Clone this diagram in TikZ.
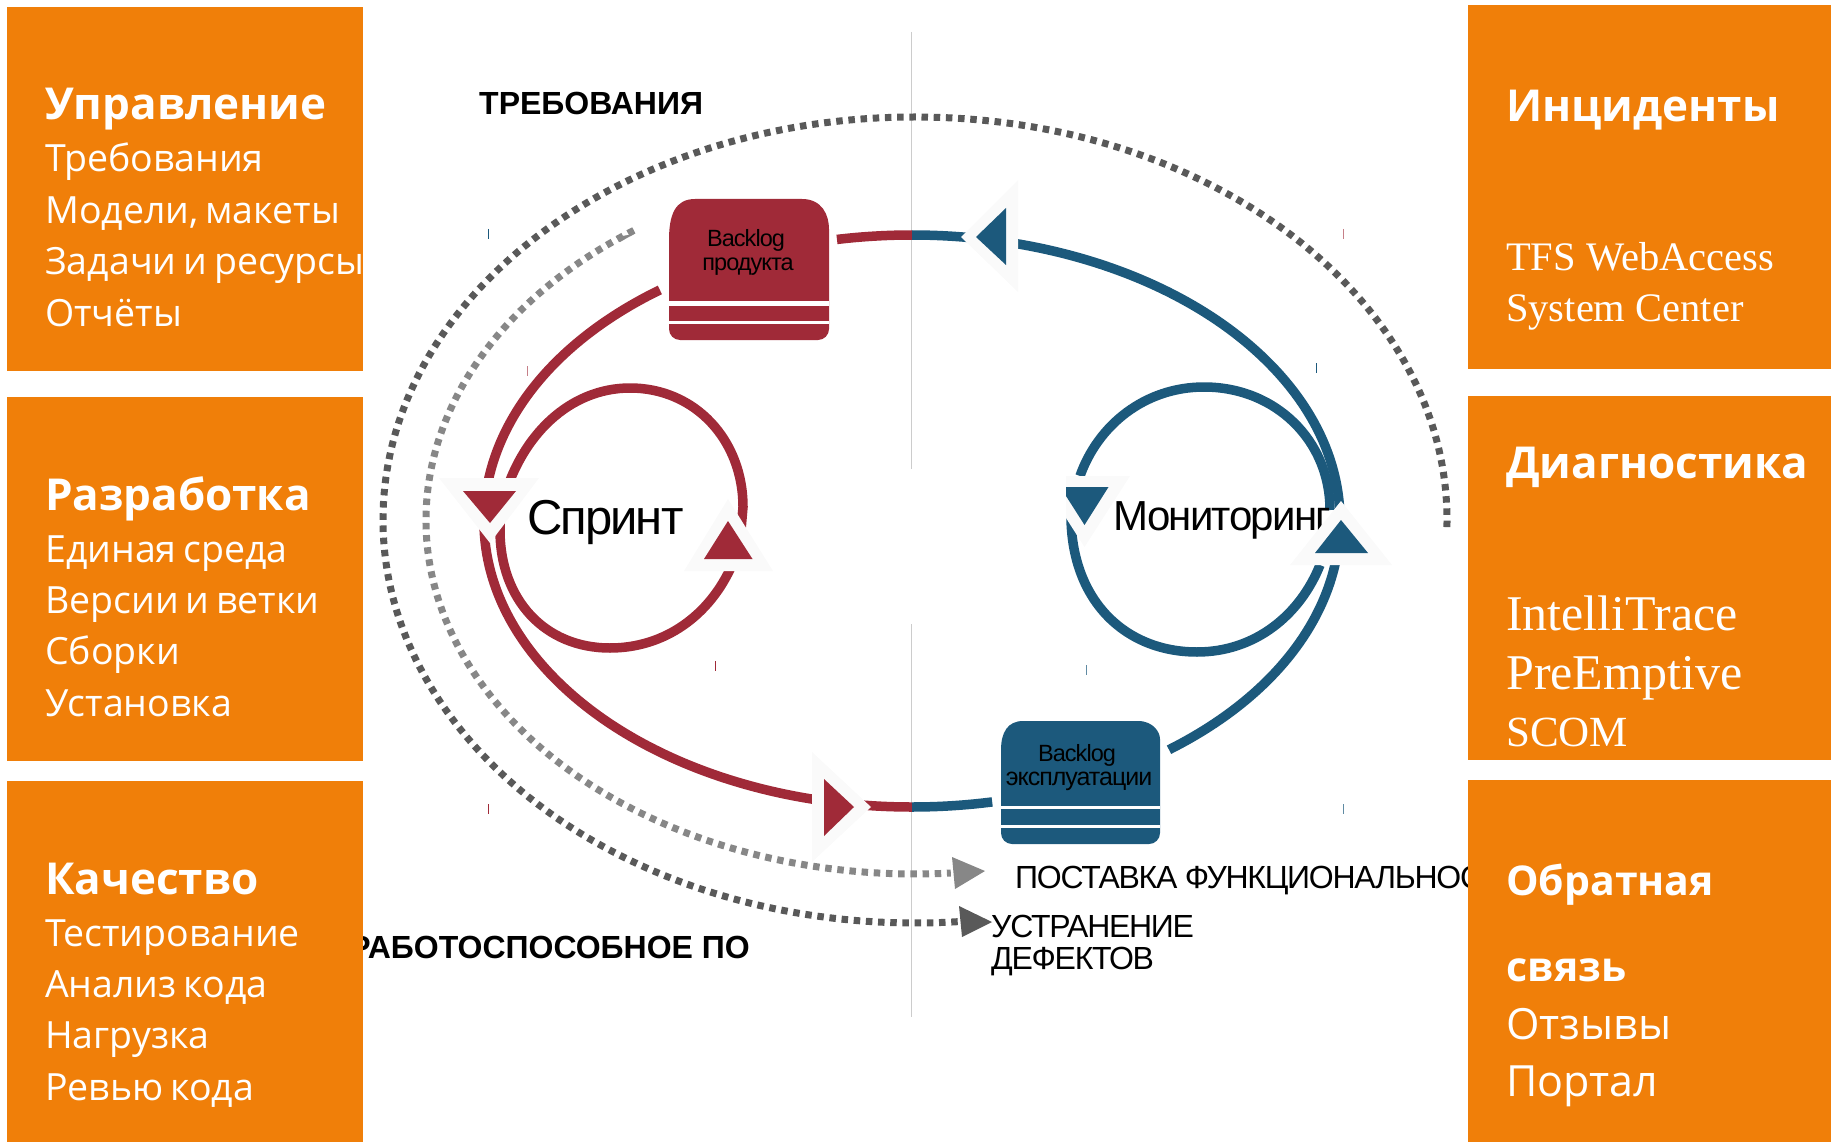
\documentclass[tikz,border=0pt]{standalone}
\usepackage{fontspec}
\setmainfont[WordSpace=0.7]{Open Sans}
\newfontfamily\boxserif{Liberation Serif}
\newfontfamily\plainsans{Liberation Sans}
\newfontfamily\tightsans[LetterSpace=-4]{Liberation Sans}
\definecolor{sprintred}{HTML}{A02A38}
\definecolor{monblue}{HTML}{1C597C}
\definecolor{boxorange}{HTML}{F07F09}
\definecolor{dotdark}{HTML}{595959}
\definecolor{dotlight}{HTML}{878787}
\definecolor{halo}{HTML}{FAFAFA}
\tikzset{
  orangebox/.style={fill=boxorange,inner sep=0pt,anchor=north west,minimum width=#1},
  headtext/.style={text=white,anchor=base west,inner sep=0pt,font=\fontsize{#1}{#1}\selectfont\bfseries},
  headtext/.default=44,
  itemtext/.style={text=white,anchor=base west,inner sep=0pt,font=\fontsize{#1}{#1}\selectfont},
  itemtext/.default=37.5,
  serifitem/.style={text=white,anchor=base west,inner sep=0pt,font=\fontsize{#1}{#1}\selectfont\boxserif},
  blacktext/.style={text=black,anchor=base west,inner sep=0pt,font=\fontsize{#1}{#1}\selectfont\tightsans},
  boldtext/.style={text=black,anchor=base west,inner sep=0pt,font=\fontsize{32}{32}\selectfont\plainsans\bfseries},
  backlogtext/.style={text=black,inner sep=0pt,font=\fontsize{#1}{#1}\selectfont\tightsans},
  backlogtext/.default=23.5,
  bigloop/.style={line width=9.5pt,x radius=428pt,y radius=286pt},
  ring/.style={line width=9.5pt},
  dots/.style={line width=7pt,dash pattern=on 6.5pt off 5.7pt}
}
\begin{document}
\begin{tikzpicture}[x=1pt,y=-1pt]
\useasboundingbox (0,0) rectangle (1831,1142);

\draw[gray!40] (911,32) -- (911,469);
\draw[gray!40] (911,624) -- (911,1017);

\foreach \tx/\ty/\tc in {488/234/monblue,527/371/sprintred!60,1343/234/sprintred!60,1316/368/monblue,715/666/sprintred,488/809/sprintred,1086/670/monblue!70,1343/809/monblue!70} {
        \draw[\tc] (\tx,\ty-5) -- (\tx,\ty+5);
}

\coordinate (ovalc) at (912,521);
\coordinate (dotc) at (915,520);

\draw[dots,dotdark] ([shift={(-1:532pt and 403pt)}]dotc) arc[start angle=-1,end angle=274.7,x radius=532pt,y radius=403pt];
\draw[dots,dotlight] ([shift={(125.1:489pt and 354pt)}]dotc) arc[start angle=125.1,end angle=274.2,x radius=489pt,y radius=354pt];
\fill[dotlight] (616,237) -- (634,234) -- (620,242) -- cycle;

\draw[sprintred,bigloop] ([shift={(90:428pt and 286pt)}]ovalc) arc[start angle=90,end angle=100.1];
\draw[sprintred,bigloop] ([shift={(126.1:428pt and 286pt)}]ovalc) arc[start angle=126.1,end angle=270];
\draw[monblue,bigloop] ([shift={(270:428pt and 286pt)}]ovalc) arc[start angle=270,end angle=280.8];
\draw[monblue,bigloop] ([shift={(306.9:428pt and 286pt)}]ovalc) arc[start angle=306.9,end angle=450];

\draw[sprintred,ring] (502,505) .. controls (520,435) and (570,388) .. (630,388) .. controls (695,388) and (743,440) .. (743,507) -- (741,530);
\draw[sprintred,ring] (500,520) -- (500,530) .. controls (500,600) and (545,648) .. (610,648) .. controls (665,648) and (710,615) .. (732,565);
\draw[monblue,ring] (1080,476) .. controls (1098,425) and (1145,387) .. (1204,387) .. controls (1275,387) and (1330,440) .. (1330,510);
\draw[monblue,ring] (1071,510) .. controls (1069,600) and (1125,652) .. (1197,652) .. controls (1255,652) and (1300,615) .. (1320,565);

\node[blacktext=49] (sprint) at (527,534) {Спринт};
\node[blacktext=42] (monitoring) at (1113,530) {Мониторинг};

\fill[halo] (439,478) -- (539,478) -- (490,543) -- cycle;
\fill[halo] (728,499) -- (684,571) -- (773,571) -- cycle;
\fill[halo] (812,752) -- (812,862) -- (871,807) -- cycle;
\fill[halo] (1018,180) -- (1018,292) -- (961,237) -- cycle;
\fill[halo] (1066,476) -- (1130,476) -- (1084.5,547) -- (1066,518) -- cycle;
\fill[halo] (1341,501) -- (1290,565) -- (1392,565) -- cycle;

\fill[sprintred] (463,491) -- (516,491) -- (490,523) -- cycle;
\fill[sprintred] (728,521) -- (704,559) -- (752.5,559) -- cycle;
\fill[sprintred] (824,779) -- (824,836) -- (854,807) -- cycle;
\fill[monblue] (1006,208) -- (1006,265) -- (976,237) -- cycle;
\fill[monblue] (1066,487) -- (1108.5,487) -- (1084.5,525) -- (1066,496) -- cycle;
\fill[monblue] (1341,520) -- (1315,553) -- (1368,553) -- cycle;

\fill[dotlight] (952,857) -- (955,889) -- (985,871) -- cycle;
\fill[dotdark] (959,906) -- (962,937) -- (992,922) -- cycle;

\fill[sprintred,rounded corners=11pt] (669,240) -- (669,340) -- (829,340) -- (829,240) [sharp corners] .. controls (829,215) and (822,199) .. (802,199) -- (695,199) .. controls (675,199) and (669,215) .. (669,240) -- cycle;
\fill[white] (669,301) rectangle (829,306);
\fill[white] (669,321) rectangle (829,324);
\fill[monblue,rounded corners=11pt] (1001,750) -- (1001,844) -- (1160,844) -- (1160,750) [sharp corners] .. controls (1160,732) and (1153,721) .. (1138,721) -- (1023,721) .. controls (1008,721) and (1001,732) .. (1001,750) -- cycle;
\fill[white] (1001,806) rectangle (1160,809);
\fill[white] (1001,825) rectangle (1160,828);

\node[backlogtext] (backlogprod) at (746,240) {Backlog};
\node[backlogtext] (produkta) at (748,267) {продукта};
\node[backlogtext] (backlogops) at (1077,755) {Backlog};
\node[backlogtext=25] (ekspluat) at (1079,781) {эксплуатации};

\node[boldtext] (trebovaniya) at (479,115) {ТРЕБОВАНИЯ};
\node[boldtext,anchor=base east] (rabochee) at (750,958) {РАБОТОСПОСОБНОЕ ПО};
\node[blacktext=32] (postavka) at (1015,888) {ПОСТАВКА ФУНКЦИОНАЛЬНОСТИ};
\node[blacktext=32] (ustranenie) at (991,937) {УСТРАНЕНИЕ};
\node[blacktext=32] (defektov) at (991,969) {ДЕФЕКТОВ};

\node[orangebox=356pt,minimum height=364pt] (upravlenie) at (7,7) {};
\node[orangebox=356pt,minimum height=364pt] (razrabotka) at (7,397) {};
\node[orangebox=356pt,minimum height=361pt] (kachestvo) at (7,781) {};
\node[orangebox=363pt,minimum height=364pt] (incidenty) at (1468,5) {};
\node[orangebox=363pt,minimum height=364pt] (diagnostika) at (1468,396) {};
\node[orangebox=363pt,minimum height=362pt] (svyaz) at (1468,780) {};

\node[headtext] (h1) at (45,120) {Управление};
\node[headtext] (h2) at (45,510) {Разработка};
\node[headtext] (h3) at (45,894) {Качество};
\node[headtext] (h4) at (1506,122) {Инциденты};
\node[headtext] (h5) at (1506,478) {Диагностика};
\node[headtext=41] (h6) at (1506,895) {Обратная};
\node[headtext=41] (h7) at (1506,981) {связь};

\foreach \n/\y/\t in {a/172/Требования,b/223/{Модели, макеты},c/274/Задачи и ресурсы,d/326/Отчёты,e/562/Единая среда,f/613/Версии и ветки,g/664/Сборки,h/716/Установка,i/946/Тестирование,j/997/Анализ кода,k/1048/Нагрузка,l/1100/Ревью кода} {
        \node[itemtext] (item\n) at (45,\y) {\t};
}

\node[serifitem=40.5] (tfs) at (1506,270) {TFS WebAccess};
\node[serifitem=40.5] (syscenter) at (1506,321) {System Center};
\node[serifitem=50] (intelli) at (1506,630) {IntelliTrace};
\node[serifitem=50] (preempt) at (1506,689) {PreEmptive};
\node[serifitem=43] (scom) at (1506,746) {SCOM};
\node[itemtext=43] (otzyvy) at (1506,1039) {Отзывы};
\node[itemtext=43] (portal) at (1506,1096) {Портал};
\end{tikzpicture}
\end{document}
